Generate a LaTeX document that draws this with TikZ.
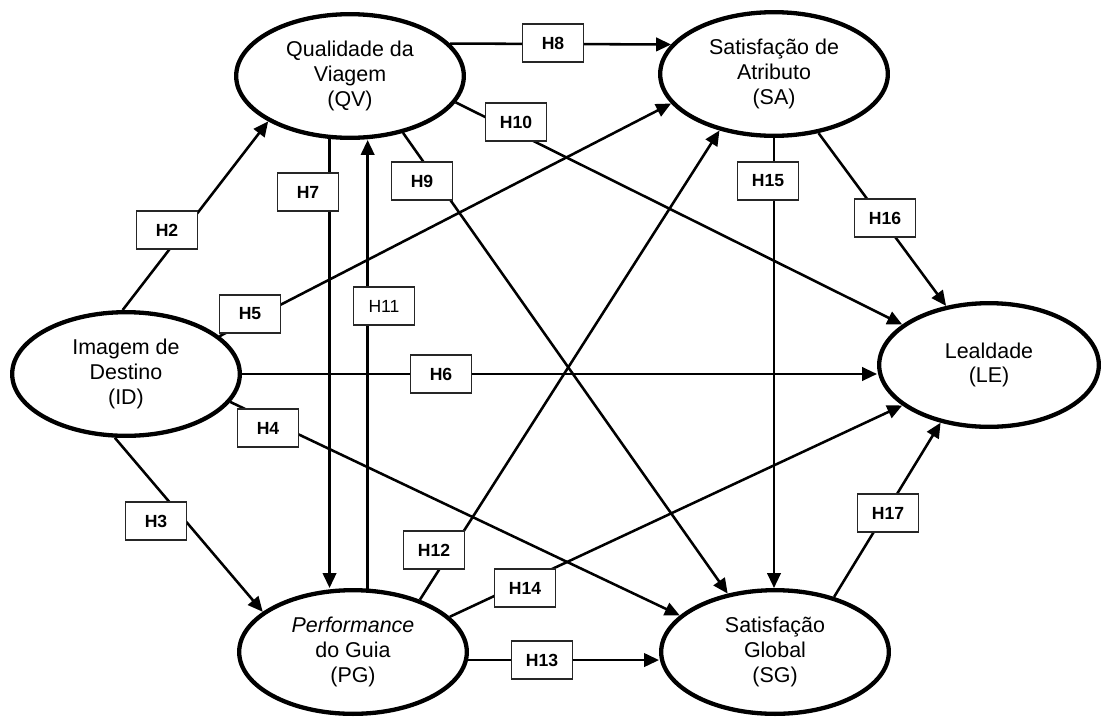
\documentclass[tikz,border=0pt]{standalone}
\usepackage{fontspec}
\setmainfont{Liberation Sans}
\usetikzlibrary{arrows.meta,shapes.geometric}
\begin{document}
\begin{tikzpicture}[x=0.02cm,y=-0.02cm,
  construct/.style={ellipse, draw, line width=2.45pt, fill=white,
    minimum width=4.554cm, minimum height=2.474cm, inner sep=0pt,
    align=center, font=\fontsize{12.2}{14}\selectfont},
  link/.style={line width=1.45pt, -{Triangle[length=0.3cm,width=0.27cm]}},
  hyp/.style={draw=black!85, line width=0.8pt, fill=white,
    minimum width=1.22cm, minimum height=0.76cm, inner sep=0pt,
    font=\fontsize{10}{12}\selectfont\bfseries},
  hypplain/.style={hyp, font=\fontsize{10}{12}\selectfont},
]
\useasboundingbox (0,0) rectangle (1101,717);

% constructs of the model
\node[construct] (QV) at (350,76)  {Qualidade da\\Viagem\\(QV)};
\node[construct] (SA) at (774,74)  {Satisfação de\\Atributo\\(SA)};
\node[construct] (ID) at (126,374) {Imagem de\\Destino\\(ID)};
\node[construct, minimum width=4.394cm] (LE) at (989,365) {Lealdade\\(LE)};
\node[construct] (PG) at (353,652) {\textit{Performance}\\do Guia\\(PG)};
\node[construct] (SG) at (775,652) {Satisfação\\Global\\(SG)};

% hypothesised paths
\draw[link] (ID.93)  -- (QV.209);
\draw[link] (ID.260) -- (PG.156);
\draw[link] (ID.345) -- (SG.159);
\draw[link] (ID.22)  -- (SA.196);
\draw[link] (ID.east) -- (ID.east -| LE.west);
\draw[link] (QV.252) -- (QV.252 |- PG.north);
\draw[link] (QV.18)  -- (SA.164);
\draw[link] (QV.313) -- (SG.129);
\draw[link] (QV.346) -- (LE.155);
\draw[link] (PG.77)  -- (PG.77 |- QV.south);
\draw[link] (PG.38)  -- (SA.226);
\draw[link] (PG.356) -- (PG.356 -| SG.west);
\draw[link] (PG.20)  -- (LE.205);
\draw[link] (SA.south) -- (SA.south |- SG.north);
\draw[link] (SA.307) -- (LE.126);
\draw[link] (SG.43)  -- (LE.230);

% hypothesis labels
\node[hyp] (h2)  at (167,230) {H2};
\node[hyp] (h3)  at (156,521) {H3};
\node[hyp] (h4)  at (268,428) {H4};
\node[hyp] (h5)  at (250,314) {H5};
\node[hyp] (h6)  at (441,374) {H6};
\node[hyp] (h7)  at (308,192) {H7};
\node[hyp] (h8)  at (553,43)  {H8};
\node[hyp] (h9)  at (422,181) {H9};
\node[hyp] (h10) at (516,122) {H10};
\node[hypplain] (h11) at (384,306) {H11};
\node[hyp] (h12) at (434,550) {H12};
\node[hyp] (h13) at (542,660) {H13};
\node[hyp] (h14) at (525,588) {H14};
\node[hyp] (h15) at (768,181) {H15};
\node[hyp] (h16) at (885,218) {H16};
\node[hyp] (h17) at (888,513) {H17};
\end{tikzpicture}
\end{document}
